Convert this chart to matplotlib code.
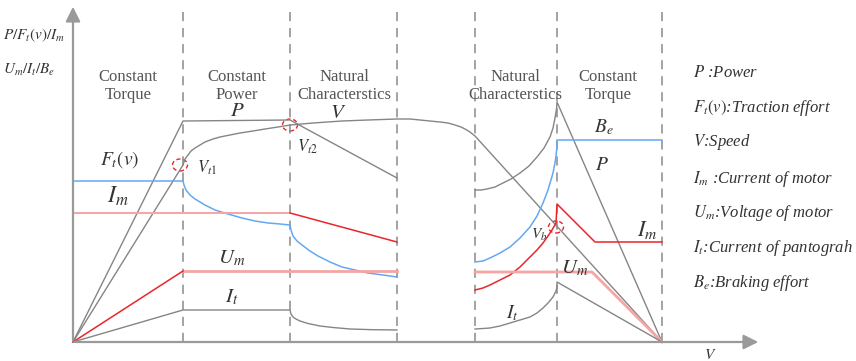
import matplotlib
matplotlib.use("Agg")
import matplotlib.pyplot as plt
from matplotlib.patches import Ellipse

plt.rcParams['font.family'] = ['Liberation Serif', 'DejaVu Serif']
plt.rcParams['mathtext.fontset'] = 'stix'

# ---------------- data (speed units, value units) ----------------
bounds = [110, 217, 324, 402, 484, 589]

# Traction side
P_v = [0, 110, 217, 324]
P_y = [0, 221, 222, 164]

V_v = [0, 110, 112, 115, 118, 122, 127, 132, 140, 147, 157, 167, 180, 192, 205, 217,
       240, 269, 295, 324, 337, 347, 357, 367, 375, 382, 388, 392, 397, 402, 589]
V_y = [0, 177, 183, 187, 191, 194, 197, 200, 203, 205, 207, 209, 211, 213, 215, 217,
       219, 221, 222, 223, 223, 222, 221, 220, 219, 217, 215, 213, 210, 206, 0]

Ft_v = [0, 110, 111, 113, 117, 122, 132, 142, 155, 169, 182, 195, 207, 217,
        218, 220, 224, 229, 237, 245, 257, 269, 282, 295, 310, 324]
Ft_y = [161, 161, 157, 152, 147, 143, 137, 132, 128, 124, 121, 119, 118, 117,
        112, 106, 101, 97, 91, 86, 80, 75, 72, 69, 67, 65]

Im_v = [0, 217, 324]
Im_y = [129, 129, 100]

Um_rise_v = [0, 110]
Um_rise_y = [0, 71]
Um_flat_v = [110, 324]
Um_flat_y = [71, 71]

It_v = [0, 110, 217, 218, 220, 223, 227, 235, 247, 260, 277, 300, 324]
It_y = [0, 32, 32, 28, 25, 23, 21, 18.5, 16, 14.5, 13, 12.3, 12]

# Braking side
Pb_v = [402, 408, 414, 422, 430, 438, 447, 456, 464, 471, 477, 480, 482, 483.5, 484, 589]
Pb_y = [152, 152, 153, 155, 159, 163, 169, 176, 185, 194, 205, 214, 224, 233, 240, 0]

Be_v = [402, 410, 417, 427, 437, 447, 457, 464, 470, 475, 480, 482.5, 484, 484, 589]
Be_y = [80, 81, 84, 89, 95, 104, 115, 126, 139, 152, 169, 182, 195, 202, 202]

Imb_v = [402, 410, 417, 427, 437, 447, 457, 464, 470, 475, 479, 483, 484, 522, 589]
Imb_y = [52, 54, 57, 62, 67, 75, 85, 92, 99, 106, 112, 119, 138, 100, 100]

Umb_v = [402, 519, 589]
Umb_y = [70, 70, 0]

Itb_v = [402, 410, 417, 427, 437, 447, 457, 464, 470, 475, 480, 483, 484, 484, 589]
Itb_y = [13, 13.5, 14, 16, 19, 22, 25, 29, 34, 39, 45, 51, 55, 60, 0]

section_labels = ["Constant\nTorque", "Constant\nPower", "Natural\nCharacterstics",
                  "Natural\nCharacterstics", "Constant\nTorque"]
section_x = [55, 164, 271, 442, 535]

legend_labels = [r"$P$ :Power", r"$F_t(v)$:Traction effort", r"$V$:Speed",
                 r"$I_m$ :Current of motor", r"$U_m$:Voltage of motor",
                 r"$I_t$:Current of pantograh", r"$B_e$:Braking effort"]
legend_y = [269, 234, 200, 163, 129, 94, 59]

# ---------------- drawing ----------------
GRAY = "#858585"
BLUE = "#64a8f4"
RED = "#e8262a"
PINK = "#f6a4a4"
TXT = "#555555"

fig = plt.figure(figsize=(8.56, 3.61), dpi=100)
ax = fig.add_axes([0, 0, 1, 1])
ax.set_xlim(-73, 783)
ax.set_ylim(-19, 342)
ax.axis('off')

# axes arrows
ax.annotate('', xy=(0, 338), xytext=(0, -1),
            arrowprops=dict(arrowstyle='-|>', color='#9a9a9a', lw=1.6, mutation_scale=22))
ax.annotate('', xy=(688, 0), xytext=(-1, 0),
            arrowprops=dict(arrowstyle='-|>', color='#9a9a9a', lw=1.6, mutation_scale=22))

for b in bounds:
    ax.plot([b, b], [0, 334], color='#8a8a8a', lw=1.1, ls=(0, (6, 4.5)))

ax.plot(P_v, P_y, color=GRAY, lw=1.0)
ax.plot(V_v, V_y, color=GRAY, lw=1.0)
ax.plot(Ft_v, Ft_y, color=BLUE, lw=1.1)
ax.plot(Um_flat_v, Um_flat_y, color=PINK, lw=2.0)
ax.plot(Um_rise_v, Um_rise_y, color=RED, lw=1.1)
ax.plot(Im_v[:2], Im_y[:2], color=PINK, lw=1.4)
ax.plot(Im_v[1:], Im_y[1:], color=RED, lw=1.1)
ax.plot(It_v, It_y, color=GRAY, lw=1.0)

ax.plot(Pb_v, Pb_y, color=GRAY, lw=1.0)
ax.plot(Be_v, Be_y, color=BLUE, lw=1.1)
ax.plot(Imb_v, Imb_y, color=RED, lw=1.1)
ax.plot(Umb_v, Umb_y, color=PINK, lw=2.0)
ax.plot(Itb_v, Itb_y, color=GRAY, lw=1.0)

for cx, cy in [(107, 177), (217, 217), (483, 115)]:
    ax.add_patch(Ellipse((cx, cy), 15, 12, fill=False, ec=RED, lw=1.0, ls=(0, (3, 2))))

for x, lab in zip(section_x, section_labels):
    ax.text(x, 256, lab, ha='center', va='center', fontsize=12, color=TXT, linespacing=1.1)

for y, lab in zip(legend_y, legend_labels):
    ax.text(620, y, lab, ha='left', va='center', fontsize=12, color='#333333', style='italic')

ax.text(-70, 307, r"$P/F_t(v)/I_m$", ha='left', va='center', fontsize=11, color='#333333')
ax.text(-70, 272, r"$U_m/I_t/B_e$", ha='left', va='center', fontsize=11, color='#333333')
ax.text(637, -13, r"$V$", ha='center', va='center', fontsize=11, color='#333333')

curve_labels = [
    (164, 230, r"$P$", 15), (265, 229, r"$V$", 15), (47, 182, r"$F_t(v)$", 14),
    (45, 146, r"$I_m$", 17), (159, 84, r"$U_m$", 15), (159, 45, r"$I_t$", 15),
    (134, 174, r"$V_{t1}$", 12), (234, 195, r"$V_{t2}$", 12),
    (531, 215, r"$B_e$", 14), (529, 177, r"$P$", 14), (574, 112, r"$I_m$", 16),
    (502, 74, r"$U_m$", 15), (439, 29, r"$I_t$", 14), (466, 107, r"$V_b$", 11),
]
for x, y, lab, fs in curve_labels:
    ax.text(x, y, lab, ha='center', va='center', fontsize=fs, color='#333333')

fig.savefig("out.png", dpi=100)
